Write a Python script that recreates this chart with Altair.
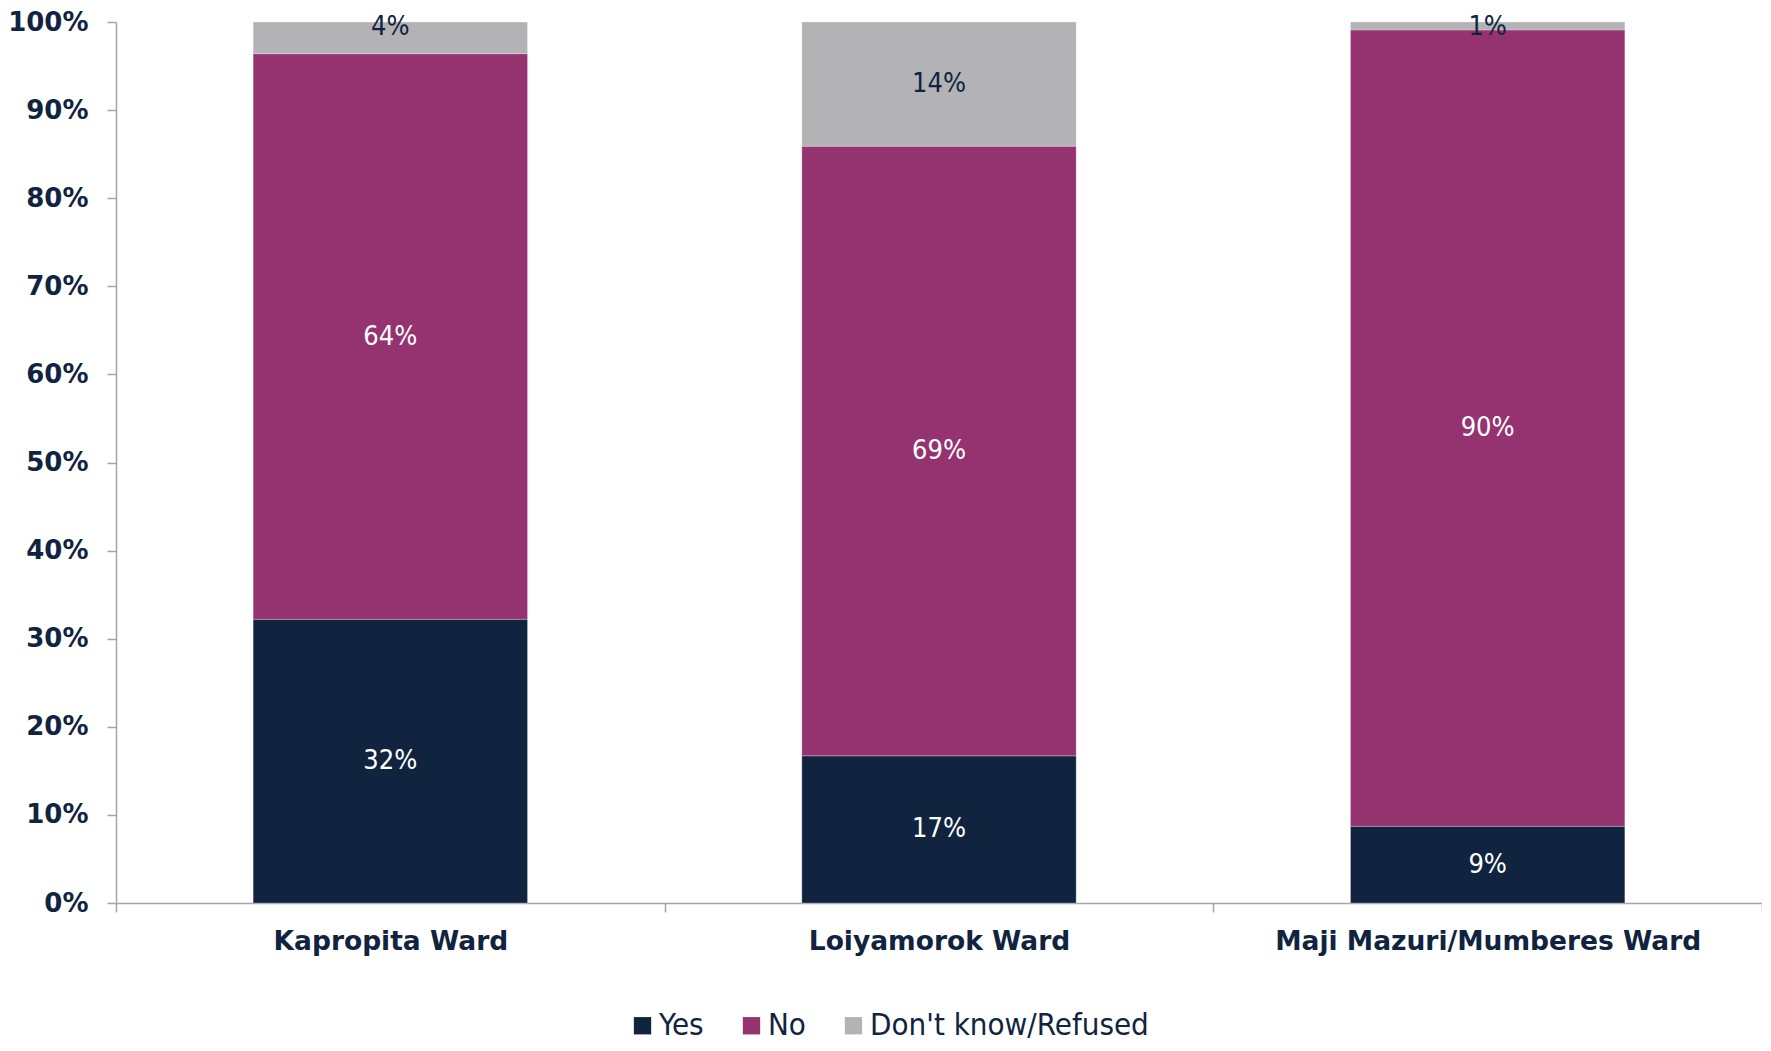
import altair as alt
import pandas as pd

wards = ["Kapropita Ward", "Loiyamorok Ward", "Maji Mazuri/Mumberes Ward"]
categories = ["Yes", "No", "Don't know/Refused"]
yes_vals = [0.322, 0.167, 0.087]
no_vals = [0.642, 0.692, 0.904]
dk_vals = [0.036, 0.141, 0.009]
colors = ["#10243F", "#943370", "#B3B3B5"]
label_colors = ["#FFFFFF", "#FFFFFF", "#10243F"]

rows = []
for i, w in enumerate(wards):
    start = 0.0
    for j, (c, v) in enumerate(zip(categories, [yes_vals[i], no_vals[i], dk_vals[i]])):
        mid = start + v / 2
        if start + v > 0.99 and v < 0.05:
            mid = 0.994  # small top segment: label pushed to the top edge
        rows.append({"ward": w, "cat": c, "order": j, "value": v,
                     "y0": start, "y1": start + v, "mid": mid,
                     "lab": f"{round(v * 100):.0f}%", "lc": label_colors[j]})
        start += v
df = pd.DataFrame(rows)

navy = "#10243F"
axis_grey = "#A6A6A6"
label_font = "Liberation Sans Narrow, DejaVu Sans Condensed"

x = alt.X("ward:N", sort=wards, title=None,
          scale=alt.Scale(paddingInner=0, paddingOuter=0),
          axis=alt.Axis(labelAngle=0, labelFont="DejaVu Sans", labelFontWeight="bold",
                        labelFontSize=26.5, labelColor=navy, labelPadding=16, labelLimit=600,
                        domainColor=axis_grey, tickColor=axis_grey, tickSize=9,
                        tickBand="extent", domainWidth=1.5, tickWidth=1.5, grid=False))

y_axis = alt.Axis(format=".0%", values=[i / 10 for i in range(11)],
                  labelFont="DejaVu Sans", labelFontWeight="bold",
                  labelFontSize=26, labelColor=navy, labelPadding=19,
                  domainColor=axis_grey, tickColor=axis_grey, tickSize=9,
                  grid=False, domainWidth=1.5, tickWidth=1.5)

bars = alt.Chart(df).mark_bar(width=alt.RelativeBandSize(0.5),
                              stroke="#FFFFFF", strokeWidth=0.5, strokeOpacity=0.5).encode(
    x=x,
    y=alt.Y("y0:Q", scale=alt.Scale(domain=[0, 1]), title=None, axis=y_axis),
    y2="y1:Q",
    color=alt.Color("cat:N", sort=categories,
                    scale=alt.Scale(domain=categories, range=colors),
                    legend=alt.Legend(title=None, orient="none", direction="horizontal",
                                      legendX=511, legendY=988,
                                      symbolType="square", symbolSize=300,
                                      symbolStrokeWidth=0, symbolOpacity=1,
                                      labelFont=label_font, labelLimit=500,
                                      labelFontSize=31, labelColor=navy,
                                      labelOffset=1, columnPadding=32, symbolOffset=0)),
    order=alt.Order("order:Q"),
)

labels = alt.Chart(df).mark_text(font=label_font,
                                 fontSize=27, baseline="middle", align="center").encode(
    x=x,
    y=alt.Y("mid:Q", scale=alt.Scale(domain=[0, 1]), title=None, axis=y_axis),
    text="lab:N",
    color=alt.Color("lc:N", scale=None),
)

chart = alt.layer(bars, labels).properties(
    width=1646, height=881,
    background="#FFFFFF",
    autosize=alt.AutoSizeParams(type="none"),
    padding={"left": 108, "top": 14, "right": 0, "bottom": 140},
).configure_view(strokeWidth=0).configure_axis(grid=False)

chart.save("out.html", embed_options={"renderer": "svg", "actions": False})
